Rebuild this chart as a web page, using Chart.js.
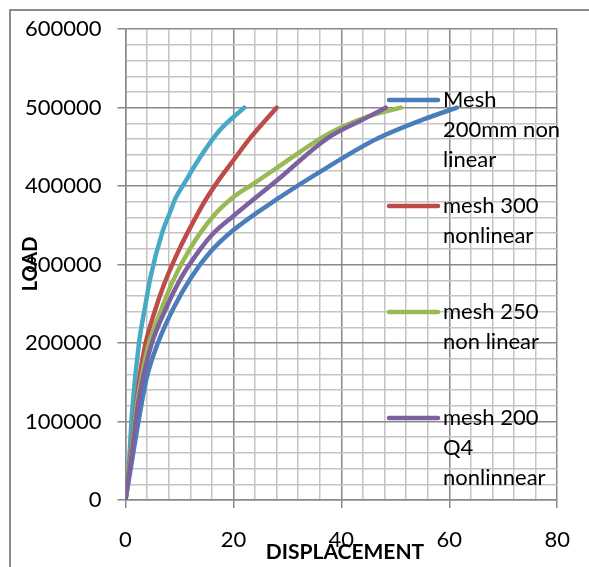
<!DOCTYPE html>
<html>
<head>
<meta charset="utf-8">
<script src="https://cdn.jsdelivr.net/npm/chart.js@4/dist/chart.umd.min.js"></script>
<style>
  html, body { margin: 0; padding: 0; background: #fff; }
  #wrap { width: 589px; height: 567px; position: relative; }
</style>
</head>
<body>
<div id="wrap"><canvas id="chart"></canvas></div>
<script>
// series names (legend), the 5th (cyan) has no visible legend entry
const seriesNames = ['Mesh 200mm non linear', 'mesh 300 nonlinear', 'mesh 250 non linear', 'mesh 200 Q4 nonlinnear', 'series 5'];
const legendLines = [['Mesh', '200mm non', 'linear'], ['mesh 300', 'nonlinear'], ['mesh 250', 'non linear'], ['mesh 200', 'Q4', 'nonlinnear']];
const seriesColors = ['#4A7EBB', '#BE4B48', '#98B954', '#7D60A0', '#46AAC5'];

// displacement / load
const blueDisp = [0, 1.2, 2.4, 3.9, 6.0, 9.0, 12.1, 15.7, 20.0, 28.2, 37.4, 46.5, 55.6, 61.4];
const blueLoad = [0, 50000, 100000, 155000, 200000, 246000, 283000, 316000, 344000, 384000, 424000, 460000, 486000, 500000];

const redDisp = [0, 1.0, 2.0, 2.6, 3.6, 5.4, 7.1, 10.0, 13.0, 14.8, 17.3, 20.0, 23.3, 28.0];
const redLoad = [0, 60000, 121000, 155000, 196000, 240000, 274000, 320000, 360000, 382000, 408000, 433000, 463000, 500000];

const greenDisp = [0, 1.0, 2.1, 3.0, 4.2, 6.6, 8.7, 12.1, 16.3, 20.0, 23.7, 28.2, 37.4, 44.6, 51.0];
const greenLoad = [0, 55000, 121000, 157000, 196000, 242000, 278000, 322000, 362000, 386000, 403000, 424000, 466000, 488000, 500000];

const purpleDisp = [0, 1.1, 2.3, 3.3, 4.8, 7.5, 10.3, 13.9, 16.3, 20.0, 28.2, 37.4, 44.6, 48.2];
const purpleLoad = [0, 55000, 121000, 157000, 198000, 244000, 283000, 320000, 340000, 362000, 408000, 461000, 487000, 500000];

const cyanDisp = [0, 0.5, 1.2, 2.5, 3.6, 4.6, 6.9, 8.1, 9.3, 11.2, 13.0, 17.3, 22.0];
const cyanLoad = [0, 30000, 110000, 200000, 245000, 283000, 343000, 364000, 385000, 407000, 428000, 470000, 500000];

const xTicks = [0, 20, 40, 60, 80];
const yTicks = [0, 100000, 200000, 300000, 400000, 500000, 600000];

const FONT = 'Lato, "Open Sans", sans-serif';
const MAJOR = '#898989';
const MINOR = '#c4c4c4';

const allDisp = [blueDisp, redDisp, greenDisp, purpleDisp, cyanDisp];
const allLoad = [blueLoad, redLoad, greenLoad, purpleLoad, cyanLoad];

const datasets = seriesNames.map((name, i) => ({
    label: name,
    data: allDisp[i].map((d, j) => ({ x: d, y: allLoad[i][j] })),
    borderColor: seriesColors[i],
    backgroundColor: seriesColors[i],
    borderWidth: 4.5,
    borderCapStyle: 'round',
    borderJoinStyle: 'round',
    pointRadius: 0,
    cubicInterpolationMode: 'monotone',
    fill: false
}));
// cyan underneath, then purple, green, red, blue on top
datasets.forEach((ds, i) => { ds.order = i === 4 ? 10 : 4 - i; });

/* frame, axis titles and the Excel-like legend */
const excelDecor = {
    id: 'excelDecor',
    beforeDraw(chart) {
        const ctx = chart.ctx;
        ctx.save();
        ctx.strokeStyle = '#8c8c8c';
        ctx.lineWidth = 2;
        ctx.beginPath();
        ctx.moveTo(10, 567);
        ctx.lineTo(10, 10);
        ctx.lineTo(589, 10);
        ctx.stroke();
        ctx.restore();
    },
    afterDraw(chart) {
        const ctx = chart.ctx;
        ctx.save();
        ctx.fillStyle = '#000';
        ctx.textBaseline = 'middle';

        // axis titles
        ctx.font = 'bold 21px ' + FONT;
        ctx.textAlign = 'center';
        ctx.fillText('DISPLACEMENT', 345, 552);
        ctx.save();
        ctx.translate(31, 264);
        ctx.rotate(-Math.PI / 2);
        ctx.font = 'bold 20px ' + FONT;
        ctx.fillText('LOAD', 0, 0);
        ctx.restore();

        // legend
        const tops = [100, 206, 312, 418];
        ctx.font = '22px ' + FONT;
        ctx.textAlign = 'left';
        legendLines.forEach((lines, i) => {
            ctx.strokeStyle = seriesColors[i];
            ctx.lineWidth = 4.5;
            ctx.lineCap = 'round';
            ctx.beginPath();
            ctx.moveTo(389, tops[i]);
            ctx.lineTo(438, tops[i]);
            ctx.stroke();
            lines.forEach((t, k) => ctx.fillText(t, 443, tops[i] + k * 30));
        });
        ctx.restore();
    }
};

const gridColor = (c) => (c.tick && c.tick.value % (c.scale.axis === 'x' ? 20 : 100000) === 0 ? MAJOR : MINOR);
const tickColor = (c) => (c.tick && c.tick.value % (c.scale.axis === 'x' ? 20 : 100000) === 0 ? MAJOR : 'rgba(0,0,0,0)');

new Chart(document.getElementById('chart'), {
    type: 'line',
    data: { datasets },
    options: {
        responsive: true,
        maintainAspectRatio: false,
        animation: false,
        layout: { padding: { left: 0, top: 28, right: 25.5, bottom: 0 } },
        plugins: { legend: { display: false }, tooltip: { enabled: false } },
        scales: {
            x: {
                type: 'linear',
                min: xTicks[0],
                max: xTicks[xTicks.length - 1],
                afterFit: (s) => { s.height = 67; },
                border: { color: MAJOR, width: 1.5 },
                grid: { color: gridColor, tickColor: tickColor, lineWidth: 1.5, tickLength: 8 },
                ticks: {
                    stepSize: 4,
                    autoSkip: false,
                    maxRotation: 0,
                    padding: 19,
                    color: '#000',
                    font: { family: FONT, size: 22 },
                    callback: (v) => (xTicks.includes(v) ? String(v) : '')
                }
            },
            y: {
                min: yTicks[0],
                max: yTicks[yTicks.length - 1],
                afterFit: (s) => { s.width = 125.5; },
                border: { color: MAJOR, width: 1.5 },
                grid: { color: gridColor, tickColor: tickColor, lineWidth: 1.5, tickLength: 8 },
                ticks: {
                    stepSize: 20000,
                    autoSkip: false,
                    padding: 16,
                    color: '#000',
                    font: { family: FONT, size: 22 },
                    callback: (v) => (yTicks.includes(v) ? String(v) : '')
                }
            }
        }
    },
    plugins: [excelDecor]
});
</script>
</body>
</html>
